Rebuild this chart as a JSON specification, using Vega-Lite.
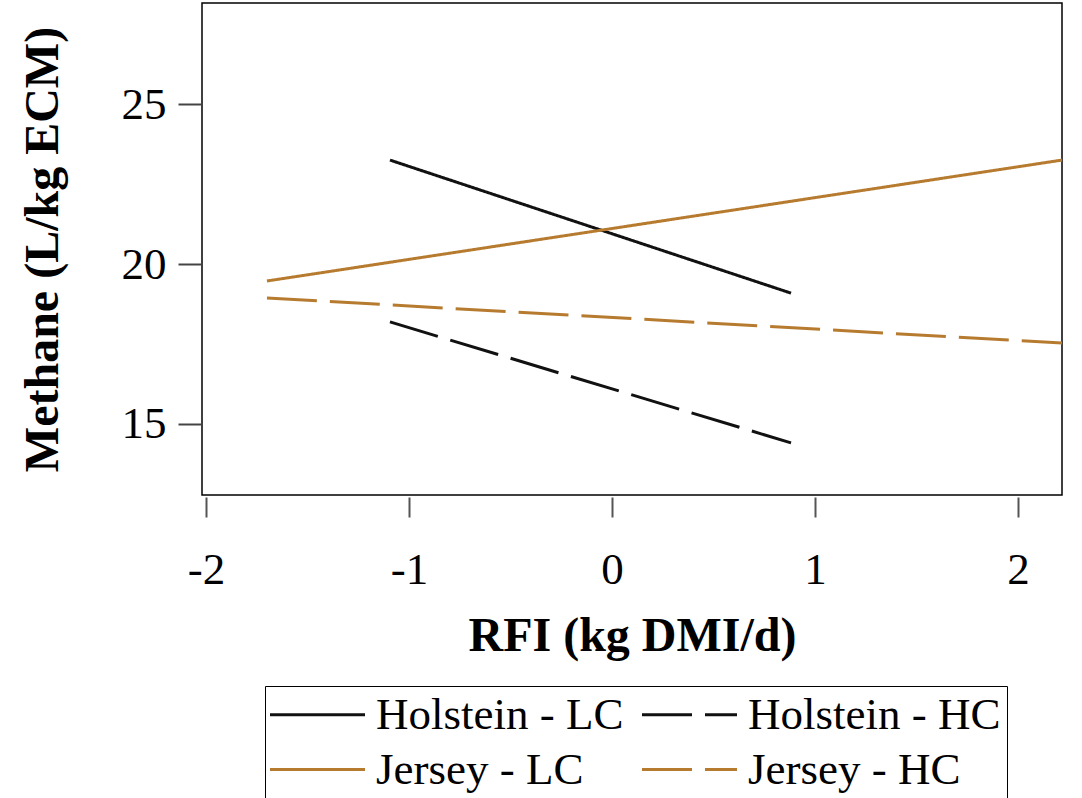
{
  "$schema": "https://vega.github.io/schema/vega-lite/v6.json",
  "width": 860,
  "height": 492,
  "autosize": {"type": "none"},
  "padding": {"left": 202, "top": 3, "right": 20, "bottom": 303},
  "background": "white",
  "config": {
    "font": "Liberation Serif",
    "view": {"stroke": "black", "strokeWidth": 1.5},
    "legend": {
      "title": null,
      "orient": "none",
      "legendX": 63,
      "legendY": 683,
      "direction": "horizontal",
      "columns": 2,
      "columnPadding": 11,
      "rowPadding": 9,
      "padding": 6,
      "strokeColor": "black",
      "symbolType": "M-3,0H3",
      "symbolSize": 1003,
      "symbolStrokeWidth": 3,
      "symbolOffset": 24,
      "labelFontSize": 45,
      "labelColor": "black",
      "labelOffset": 36,
      "labelLimit": 0
    }
  },
  "data": {
    "values": [
      {"series": "Holstein - LC", "rfi": -1.094, "methane": 23.25},
      {"series": "Holstein - LC", "rfi": 0.882, "methane": 19.09},
      {"series": "Holstein - HC", "rfi": -1.094, "methane": 18.19},
      {"series": "Holstein - HC", "rfi": 0.882, "methane": 14.41},
      {"series": "Jersey - LC", "rfi": -1.70, "methane": 19.47},
      {"series": "Jersey - LC", "rfi": 2.217, "methane": 23.25},
      {"series": "Jersey - HC", "rfi": -1.70, "methane": 18.94},
      {"series": "Jersey - HC", "rfi": 2.217, "methane": 17.53}
    ]
  },
  "mark": {"type": "line", "strokeWidth": 3, "clip": true},
  "encoding": {
    "x": {
      "field": "rfi", "type": "quantitative",
      "scale": {"domain": [-2.02, 2.217], "nice": false, "zero": false},
      "axis": {
        "title": "RFI (kg DMI/d)",
        "values": [-2, -1, 0, 1, 2],
        "labelExpr": "'' + datum.value",
        "domain": false, "grid": false,
        "offset": 2,
        "tickSize": 20, "tickColor": "#555", "tickWidth": 2,
        "labelFontSize": 45, "labelColor": "black", "labelPadding": 30,
        "labelFlush": false,
        "titleFontSize": 48, "titleFontWeight": "bold", "titleColor": "black",
        "titlePadding": 20
      }
    },
    "y": {
      "field": "methane", "type": "quantitative",
      "scale": {"domain": [12.78, 28.16], "nice": false, "zero": false},
      "axis": {
        "title": "Methane (L/kg ECM)",
        "values": [15, 20, 25],
        "domain": false, "grid": false,
        "tickSize": 24, "tickColor": "#444", "tickWidth": 2,
        "labelFontSize": 45, "labelColor": "black", "labelPadding": 12,
        "titleFontSize": 48, "titleFontWeight": "bold", "titleColor": "black",
        "titlePadding": 54
      }
    },
    "color": {
      "field": "series", "type": "nominal",
      "scale": {
        "domain": ["Holstein - LC", "Holstein - HC", "Jersey - LC", "Jersey - HC"],
        "range": ["#111111", "#111111", "#b77b30", "#b77b30"]
      }
    },
    "strokeDash": {
      "field": "series", "type": "nominal",
      "scale": {
        "domain": ["Holstein - LC", "Holstein - HC", "Jersey - LC", "Jersey - HC"],
        "range": [[1, 0], [50, 13], [1, 0], [50, 13]]
      }
    }
  }
}
